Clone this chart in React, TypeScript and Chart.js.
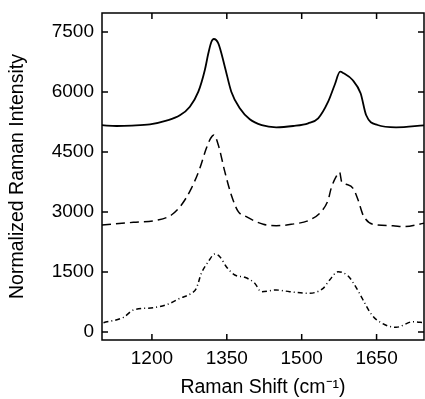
import { useEffect, useRef } from 'react';
import { Chart, registerables } from 'chart.js';

Chart.register(...registerables);

// Top trace (solid)
const shiftSolid = [1100, 1129, 1160, 1196, 1229, 1256, 1276, 1293, 1306, 1313, 1319, 1324, 1333, 1346, 1359, 1376, 1396, 1420, 1449, 1483, 1513, 1533, 1553, 1566, 1577, 1584, 1602, 1618, 1629, 1652, 1689, 1745];
const intensitySolid = [5170, 5150, 5160, 5190, 5283, 5417, 5633, 6008, 6550, 6967, 7250, 7325, 7217, 6633, 6008, 5592, 5317, 5170, 5117, 5150, 5217, 5342, 5758, 6175, 6508, 6470, 6300, 5967, 5425, 5175, 5117, 5167];

// Middle trace (dashed)
const shiftDashed = [1100, 1163, 1209, 1239, 1259, 1279, 1296, 1309, 1318, 1324, 1333, 1346, 1359, 1373, 1389, 1423, 1449, 1479, 1516, 1539, 1553, 1559, 1569, 1576, 1580, 1589, 1603, 1613, 1623, 1643, 1683, 1703, 1745];
const intensityDashed = [2675, 2742, 2792, 2925, 3175, 3592, 4092, 4592, 4850, 4925, 4675, 4008, 3425, 3008, 2883, 2692, 2658, 2692, 2800, 3008, 3300, 3592, 3883, 3992, 3758, 3692, 3592, 3300, 2925, 2692, 2658, 2633, 2717];

// Bottom trace (dash-dot)
const shiftDashDot = [1103, 1143, 1163, 1203, 1233, 1256, 1279, 1289, 1299, 1313, 1326, 1336, 1349, 1366, 1386, 1406, 1419, 1449, 1476, 1513, 1543, 1556, 1573, 1593, 1606, 1623, 1636, 1649, 1689, 1723, 1745];
const intensityDashDot = [233, 367, 550, 608, 700, 842, 967, 1092, 1467, 1758, 1950, 1883, 1633, 1425, 1367, 1217, 1008, 1050, 1008, 967, 1092, 1300, 1508, 1400, 1175, 800, 508, 317, 117, 258, 233];

const xTickValues = [1200, 1350, 1500, 1650];
const yTickValues = [0, 1500, 3000, 4500, 6000, 7500];

const toPoints = (xs: number[], ys: number[]) => xs.map((x, i) => ({ x, y: ys[i] }));

const FONT = 'Liberation Sans, Arial, Helvetica, sans-serif';

const framePlugin = {
  id: 'frameTicks',
  afterDatasetsDraw(chart: any) {
    const { ctx, chartArea: a, scales } = chart;
    ctx.save();
    ctx.strokeStyle = '#000';
    ctx.lineWidth = 1.5;
    ctx.strokeRect(a.left, a.top, a.right - a.left, a.bottom - a.top);
    const L = 6;
    ctx.beginPath();
    for (const v of xTickValues) {
      const px = scales.x.getPixelForValue(v);
      ctx.moveTo(px, a.bottom);
      ctx.lineTo(px, a.bottom - L);
      ctx.moveTo(px, a.top);
      ctx.lineTo(px, a.top + L);
    }
    for (const v of yTickValues) {
      const py = scales.y.getPixelForValue(v);
      ctx.moveTo(a.left, py);
      ctx.lineTo(a.left + L, py);
      ctx.moveTo(a.right, py);
      ctx.lineTo(a.right - L, py);
    }
    ctx.stroke();
    ctx.restore();
  },
};

export default function App() {
  const ref = useRef<HTMLCanvasElement | null>(null);

  useEffect(() => {
    document.body.style.margin = '0';
    const canvas = ref.current;
    if (!canvas) return;
    const common = {
      borderColor: '#000',
      pointRadius: 0,
      fill: false,
      cubicInterpolationMode: 'monotone' as const,
    };
    const chart = new Chart(canvas, {
      type: 'line',
      data: {
        datasets: [
          { ...common, data: toPoints(shiftSolid, intensitySolid), borderWidth: 1.8 },
          { ...common, data: toPoints(shiftDashed, intensityDashed), borderWidth: 1.5, borderDash: [9, 5] },
          { ...common, data: toPoints(shiftDashDot, intensityDashDot), borderWidth: 1.5, borderDash: [5, 3, 1, 3] },
        ],
      },
      plugins: [framePlugin],
      options: {
        animation: false,
        responsive: true,
        maintainAspectRatio: false,
        layout: { padding: { top: 13, right: 1, left: 0, bottom: 0 } },
        plugins: { legend: { display: false }, tooltip: { enabled: false } },
        scales: {
          x: {
            type: 'linear',
            min: 1100,
            max: 1745,
            grid: { display: false, drawTicks: false },
            border: { display: false },
            afterBuildTicks: (s: any) => { s.ticks = xTickValues.map((value) => ({ value })); },
            afterFit: (s: any) => { s.height = 59; s.paddingLeft = 0; s.paddingRight = 0; },
            ticks: { color: '#000', font: { family: FONT, size: 19 }, padding: 7, maxRotation: 0, callback: (v: any) => String(v) },
            title: {
              display: true,
              text: 'Raman Shift (cm\u207B\u00B9)',
              color: '#000',
              font: { family: FONT, size: 19.5 },
              padding: { top: 0, bottom: 0 },
            },
          },
          y: {
            type: 'linear',
            min: -200,
            max: 7975,
            grid: { display: false, drawTicks: false },
            border: { display: false },
            afterBuildTicks: (s: any) => { s.ticks = yTickValues.map((value) => ({ value })); },
            afterFit: (s: any) => { s.width = 102; s.paddingTop = 0; s.paddingBottom = 0; },
            ticks: { color: '#000', font: { family: FONT, size: 19 }, padding: 8, callback: (v: any) => String(v) },
            title: {
              display: true,
              text: 'Normalized Raman Intensity',
              color: '#000',
              font: { family: FONT, size: 19.5 },
              padding: { top: 6, bottom: 0 },
            },
          },
        },
      },
    });
    return () => chart.destroy();
  }, []);

  return (
    <div style={{ position: 'relative', width: 425, height: 399 }}>
      <canvas ref={ref} />
    </div>
  );
}
